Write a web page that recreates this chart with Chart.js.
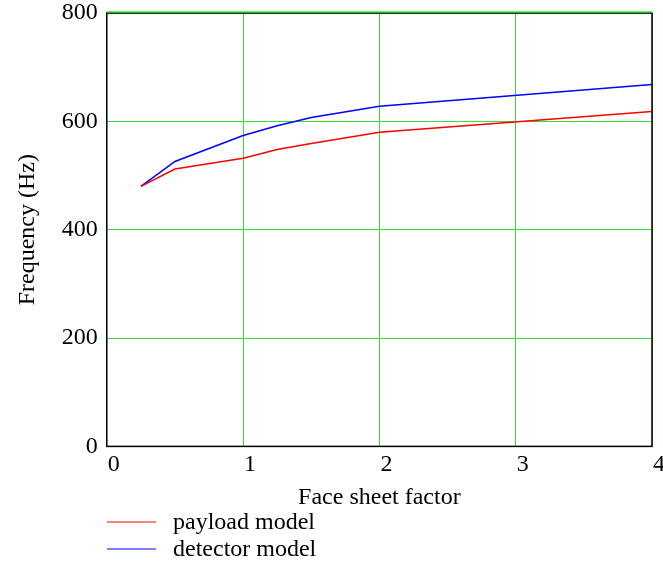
<!DOCTYPE html>
<html>
<head>
<meta charset="utf-8">
<script src="https://cdn.jsdelivr.net/npm/chart.js@4/dist/chart.umd.min.js"></script>
<style>
  html, body { margin: 0; padding: 0; background: #fff; }
  #wrap { width: 663px; height: 562px; }
</style>
</head>
<body>
<div id="wrap"><canvas id="c" width="663" height="562"></canvas></div>
<script>
// Data
var faceSheet = [0.25, 0.5, 1, 1.25, 1.5, 2, 4];
var payloadFreq = [480, 512, 532, 548, 559, 580, 618];
var detectorFreq = [480, 526, 574, 592, 607, 628, 668];
var seriesNames = ['payload model', 'detector model'];
var seriesColors = ['#ff0000', '#0000ff'];
var xTicks = [0, 1, 2, 3, 4];
var yTicks = [0, 200, 400, 600, 800];

var gridGreen = '#33e033';
var serif = '"Liberation Serif", "DejaVu Serif", serif';

function toPoints(xs, ys) {
    var pts = [];
    for (var i = 0; i < xs.length; i++) pts.push({ x: xs[i], y: ys[i] });
    return pts;
}

// Frame around the plot area plus the stacked legend under the x title
var framePlugin = {
    id: 'frame',
    afterDraw: function (chart) {
        var a = chart.chartArea;
        var ctx = chart.ctx;
        ctx.save();
        ctx.strokeStyle = '#000';
        ctx.lineWidth = 1.5;
        ctx.strokeRect(a.left, a.top, a.right - a.left, a.bottom - a.top);
        ctx.strokeStyle = gridGreen;
        ctx.lineWidth = 1.5;
        ctx.beginPath();
        ctx.moveTo(a.left, a.top - 1);
        ctx.lineTo(a.right, a.top - 1);
        ctx.stroke();

        // legend
        ctx.font = '24px ' + serif;
        ctx.textBaseline = 'middle';
        ctx.fillStyle = '#000';
        chart.data.datasets.forEach(function (ds, i) {
            var y = 522 + i * 27;
            ctx.strokeStyle = ds.borderColor;
            ctx.lineWidth = 1.2;
            ctx.beginPath();
            ctx.moveTo(107, y);
            ctx.lineTo(156, y);
            ctx.stroke();
            ctx.fillText(ds.label, 173, y + 1);
        });
        ctx.restore();
    }
};

new Chart(document.getElementById('c'), {
    type: 'line',
    data: {
        datasets: [
            {
                label: seriesNames[0],
                data: toPoints(faceSheet, payloadFreq),
                borderColor: seriesColors[0],
                borderWidth: 1.5,
                pointRadius: 0,
                fill: false,
                tension: 0
            },
            {
                label: seriesNames[1],
                data: toPoints(faceSheet, detectorFreq),
                borderColor: seriesColors[1],
                borderWidth: 1.5,
                pointRadius: 0,
                fill: false,
                tension: 0
            }
        ]
    },
    options: {
        responsive: false,
        animation: false,
        layout: { padding: { top: 13, right: 11, bottom: 50, left: 13 } },
        plugins: {
            legend: { display: false },
            tooltip: { enabled: false }
        },
        scales: {
            x: {
                type: 'linear',
                min: 0,
                max: 4,
                afterBuildTicks: function (s) { s.ticks = xTicks.map(function (v) { return { value: v }; }); },
                ticks: { color: '#000', font: { family: serif, size: 24 }, labelOffset: 7, padding: 4, maxRotation: 0 },
                grid: { color: gridGreen, lineWidth: 1, drawTicks: false },
                border: { display: false },
                title: { display: true, text: 'Face sheet factor', color: '#000', font: { family: serif, size: 24 }, padding: { top: 0, bottom: 0 } }
            },
            y: {
                min: 0,
                max: 800,
                afterBuildTicks: function (s) { s.ticks = yTicks.map(function (v) { return { value: v }; }); },
                afterFit: function (s) { s.paddingTop = 0; },
                ticks: { color: '#000', font: { family: serif, size: 24 }, padding: 9 },
                grid: { color: gridGreen, lineWidth: 1, drawTicks: false },
                border: { display: false },
                title: { display: true, text: 'Frequency (Hz)', color: '#000', font: { family: serif, size: 24 }, padding: { top: 0, bottom: 11 } }
            }
        }
    },
    plugins: [framePlugin]
});
</script>
</body>
</html>
